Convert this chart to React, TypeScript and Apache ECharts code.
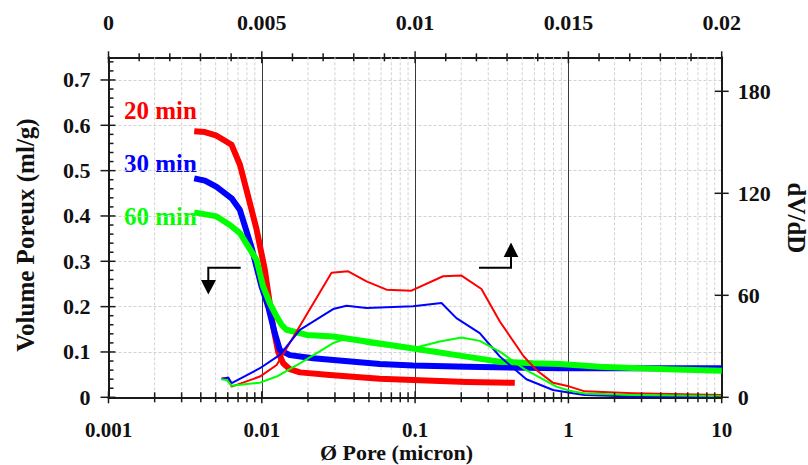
import React, { useEffect, useRef } from 'react';
import * as echarts from 'echarts';

const FONT = '"Liberation Serif", "Times New Roman", serif';
const RED = '#ff0000';
const BLUE = '#0000ff';
const GREEN = '#00ff00';
const AXIS = '#1a1a1a';

// Axis tick labels
const X_TICK_LABELS = ['0.001', '0.01', '0.1', '1', '10'];
const TOP_TICK_LABELS = ['0', '0.005', '0.01', '0.015', '0.02'];

// Tick / grid positions
const LOG_DECADES = [0.001, 0.01, 0.1, 1];
const LOG_MAJOR = [0.001, 0.01, 0.1, 1, 10];
const LOG_MINOR_MULTS = [2, 3, 4, 5, 6, 7, 8, 9];
const TOP_MAJOR = [0, 0.005, 0.01, 0.015, 0.02];
const TOP_MINOR_STEP = 0.001;
const LEFT_MAJOR = [0, 0.1, 0.2, 0.3, 0.4, 0.5, 0.6, 0.7];
const LEFT_MINOR_STEP = 0.02;
const RIGHT_MAJOR = [0, 60, 120, 180];

// Cumulative pore volume (ml/g), left axis
const RED_VOL_X = [0.003624, 0.004256, 0.005073, 0.006354, 0.0072, 0.00815, 0.00925, 0.01047, 0.01186, 0.01279, 0.01379, 0.01525, 0.01772, 0.0278, 0.0589, 0.097, 0.2163, 0.447];
const RED_VOL_Y = [0.587, 0.585, 0.577, 0.557, 0.513, 0.443, 0.37, 0.281, 0.156, 0.1, 0.075, 0.062, 0.055, 0.049, 0.041, 0.038, 0.034, 0.032];

const BLUE_VOL_X = [0.003624, 0.004256, 0.005073, 0.006354, 0.0072, 0.00858, 0.00997, 0.011, 0.01217, 0.01312, 0.01525, 0.02163, 0.0589, 0.097, 0.2163, 0.877, 10];
const BLUE_VOL_Y = [0.483, 0.478, 0.464, 0.439, 0.413, 0.33, 0.244, 0.2, 0.141, 0.104, 0.093, 0.086, 0.0735, 0.07, 0.0676, 0.064, 0.064];

const GREEN_VOL_X = [0.003624, 0.005073, 0.00619, 0.0072, 0.00925, 0.01021, 0.01129, 0.0125, 0.01346, 0.01451, 0.0196, 0.0292, 0.0482, 0.0795, 0.131, 0.2163, 0.357, 0.588, 0.877, 1.6, 4.35, 10];
const GREEN_VOL_Y = [0.408, 0.399, 0.38, 0.362, 0.303, 0.244, 0.207, 0.178, 0.16, 0.149, 0.1375, 0.134, 0.123, 0.112, 0.101, 0.0897, 0.0786, 0.075, 0.0735, 0.0675, 0.0618, 0.0587];

// dV/dD, right axis
const RED_DV_X = [0.00547, 0.00604, 0.00636, 0.00972, 0.0125, 0.0285, 0.0366, 0.0482, 0.0651, 0.0947, 0.1522, 0.2007, 0.271, 0.357, 0.512, 0.618, 0.794, 1.02, 1.277, 2.64, 10];
const RED_DV_Y = [11.2, 11.4, 6.3, 12.2, 19, 73.2, 74.1, 68.2, 63.3, 62.7, 71.2, 71.6, 63.7, 44.6, 24, 16.1, 8.5, 6.3, 3.5, 2.4, 1.4];

const BLUE_DV_X = [0.00547, 0.00604, 0.00636, 0.00972, 0.01312, 0.01772, 0.0292, 0.0357, 0.0482, 0.097, 0.1487, 0.186, 0.264, 0.357, 0.532, 0.794, 1.02, 1.277, 2.64, 10];
const BLUE_DV_Y = [10.6, 11.6, 8.3, 17.1, 25, 39.7, 51.9, 53.9, 52.5, 53.5, 55.5, 46.6, 37.8, 24, 10.6, 4.3, 2.7, 1.4, 0.4, 0.3];

const GREEN_DV_X = [0.00547, 0.0059, 0.00636, 0.00972, 0.0125, 0.01772, 0.0292, 0.0366, 0.0482, 0.0651, 0.097, 0.145, 0.2007, 0.264, 0.357, 0.52, 0.835, 1.02, 1.277, 2.64, 10];
const GREEN_DV_Y = [10.6, 10.2, 6.8, 8.6, 12.2, 20, 31.9, 34.8, 31.4, 29.9, 28.9, 32.8, 35.2, 33.2, 26.9, 16.4, 6.3, 3.9, 2.2, 1.4, 0.8];

const SERIES_LABELS = ['20 min', '30 min', '60 min'];

const zip = (xs: number[], ys: number[]) => xs.map((x, i) => [x, ys[i]]);

const Y_MAX = 0.75;
const X_MIN = 0.001;
const X_MAX = 10;

function buildOption() {
  const logMinor: number[][] = [];
  LOG_DECADES.forEach((d) => LOG_MINOR_MULTS.forEach((m) => logMinor.push([+(d * m).toPrecision(3), 0, 0])));
  const logTicks = [...LOG_MAJOR.map((v) => [v, 0, 1]), ...logMinor];

  const topTicks: number[][] = [];
  for (let i = 0; i <= 20; i++) {
    const v = +(i * TOP_MINOR_STEP).toFixed(4);
    topTicks.push([v, Y_MAX, TOP_MAJOR.some((m) => Math.abs(m - v) < 1e-9) ? 1 : 0]);
  }
  const leftTicks: number[][] = [];
  for (let i = 0; i <= 37; i++) {
    const v = +(i * LEFT_MINOR_STEP).toFixed(3);
    leftTicks.push([X_MIN, v, LEFT_MAJOR.some((m) => Math.abs(m - v) < 1e-9) ? 1 : 0]);
  }
  const rightTicks = RIGHT_MAJOR.map((v) => [X_MAX, v, 1]);

  const tickStyle = { stroke: AXIS, lineWidth: 1.5 };

  const line = (name: string, xs: number[], ys: number[], color: string, width: number, yAxisIndex: number, z: number) => ({
    name,
    type: 'line',
    xAxisIndex: 0,
    yAxisIndex,
    data: zip(xs, ys),
    symbol: 'none',
    showSymbol: false,
    silent: true,
    z,
    lineStyle: { color, width, join: 'round' },
    itemStyle: { color },
  });

  const labelStyle = { fontFamily: FONT, fontWeight: 'bold', fontSize: 22, color: '#111' };

  return {
    animation: false,
    backgroundColor: '#ffffff',
    grid: { left: 108.5, right: 86.3, top: 57.3, bottom: 67.7, containLabel: false },
    xAxis: [
      {
        type: 'log',
        logBase: 10,
        min: X_MIN,
        max: X_MAX,
        position: 'bottom',
        axisLine: { show: true, onZero: false, lineStyle: { color: AXIS, width: 2 } },
        axisTick: { show: false },
        axisLabel: {
          ...labelStyle,
          fontSize: 21,
          margin: 22,
          formatter: (v: number) => X_TICK_LABELS[Math.round(Math.log10(v)) + 3] ?? '',
        },
        splitLine: { show: true, lineStyle: { color: '#3a3a3a', width: 1 } },
        minorSplitLine: { show: false },
      },
      {
        type: 'value',
        min: 0,
        max: 0.02,
        interval: 0.005,
        position: 'top',
        axisLine: { show: true, onZero: false, lineStyle: { color: AXIS, width: 2 } },
        axisTick: { show: false },
        axisLabel: {
          ...labelStyle,
          margin: 24,
          formatter: (v: number) => TOP_TICK_LABELS[Math.round(v / 0.005)] ?? '',
        },
        splitLine: { show: false },
      },
    ],
    yAxis: [
      {
        type: 'value',
        min: 0,
        max: Y_MAX,
        interval: 0.1,
        position: 'left',
        axisLine: { show: true, onZero: false, lineStyle: { color: AXIS, width: 2 } },
        axisTick: { show: false },
        axisLabel: { ...labelStyle, margin: 18, showMaxLabel: false },
        splitLine: { show: true, lineStyle: { color: '#d2d2d2', width: 1, type: [3, 2] } },
      },
      {
        type: 'value',
        min: 0,
        max: 200,
        interval: 60,
        position: 'right',
        axisLine: { show: true, onZero: false, lineStyle: { color: AXIS, width: 2 } },
        axisTick: { show: false },
        axisLabel: { ...labelStyle, margin: 16, showMaxLabel: false },
        splitLine: { show: false },
      },
    ],
    series: [
      {
        type: 'custom',
        name: 'minorGrid',
        xAxisIndex: 0,
        yAxisIndex: 0,
        silent: true,
        clip: false,
        z: 1,
        encode: { x: 0, y: 1 },
        data: logMinor,
        renderItem: (_p: any, api: any) => {
          const x = api.value(0);
          const b = api.coord([x, 0]);
          const t = api.coord([x, Y_MAX]);
          return {
            type: 'line',
            shape: { x1: b[0], y1: t[1], x2: b[0], y2: b[1] },
            style: { stroke: '#d2d2d2', lineWidth: 1, lineDash: [3, 2] },
          };
        },
      },
      {
        type: 'custom',
        name: 'bottomTicks',
        xAxisIndex: 0,
        yAxisIndex: 0,
        silent: true,
        clip: false,
        z: 10,
        encode: { x: 0, y: 1 },
        data: logTicks,
        renderItem: (_p: any, api: any) => {
          const b = api.coord([api.value(0), 0]);
          const L = api.value(2) ? 6 : 5;
          return { type: 'line', shape: { x1: b[0], y1: b[1] - L, x2: b[0], y2: b[1] + L }, style: tickStyle };
        },
      },
      {
        type: 'custom',
        name: 'topTicks',
        xAxisIndex: 1,
        yAxisIndex: 0,
        silent: true,
        clip: false,
        z: 10,
        encode: { x: 0, y: 1 },
        data: topTicks,
        renderItem: (_p: any, api: any) => {
          const t = api.coord([api.value(0), Y_MAX]);
          const L = api.value(2) ? 6 : 4;
          return { type: 'line', shape: { x1: t[0], y1: t[1] - L, x2: t[0], y2: t[1] + L }, style: tickStyle };
        },
      },
      {
        type: 'custom',
        name: 'leftTicks',
        xAxisIndex: 0,
        yAxisIndex: 0,
        silent: true,
        clip: false,
        z: 10,
        encode: { x: 0, y: 1 },
        data: leftTicks,
        renderItem: (_p: any, api: any) => {
          const p = api.coord([X_MIN, api.value(1)]);
          const major = api.value(2);
          return {
            type: 'line',
            shape: { x1: major ? p[0] - 8 : p[0], y1: p[1], x2: p[0] + (major ? 7 : 5), y2: p[1] },
            style: tickStyle,
          };
        },
      },
      {
        type: 'custom',
        name: 'rightTicks',
        xAxisIndex: 0,
        yAxisIndex: 1,
        silent: true,
        clip: false,
        z: 10,
        encode: { x: 0, y: 1 },
        data: rightTicks,
        renderItem: (_p: any, api: any) => {
          const p = api.coord([X_MAX, api.value(1)]);
          return { type: 'line', shape: { x1: p[0] - 7, y1: p[1], x2: p[0] + 7, y2: p[1] }, style: tickStyle };
        },
      },
      line('20 min V', RED_VOL_X, RED_VOL_Y, RED, 6, 0, 3),
      line('30 min V', BLUE_VOL_X, BLUE_VOL_Y, BLUE, 6, 0, 3),
      line('60 min V', GREEN_VOL_X, GREEN_VOL_Y, GREEN, 6, 0, 3),
      line('20 min dV/dD', RED_DV_X, RED_DV_Y, RED, 2, 1, 4),
      line('30 min dV/dD', BLUE_DV_X, BLUE_DV_Y, BLUE, 2, 1, 4),
      line('60 min dV/dD', GREEN_DV_X, GREEN_DV_Y, GREEN, 2, 1, 4),
    ],
    graphic: [
      {
        type: 'text',
        x: 25,
        y: 235,
        rotation: Math.PI / 2,
        style: { text: 'Volume Poreux (ml/g)', fontFamily: FONT, fontWeight: 'bold', fontSize: 25, lineHeight: 20, fill: '#111', align: 'center', verticalAlign: 'middle' },
      },
      {
        type: 'text',
        x: 796,
        y: 218,
        rotation: -Math.PI / 2,
        style: { text: 'dV/dD', fontFamily: FONT, fontWeight: 'bold', fontSize: 25, lineHeight: 18, fill: '#111', align: 'center', verticalAlign: 'middle' },
      },
      {
        type: 'text',
        x: 396.5,
        y: 452.5,
        style: { text: 'Ø Pore (micron)', fontFamily: FONT, fontWeight: 'bold', fontSize: 22, fill: '#111', align: 'center', verticalAlign: 'middle' },
      },
      {
        type: 'text',
        x: 124,
        y: 110,
        style: { text: SERIES_LABELS[0], fontFamily: FONT, fontWeight: 'bold', fontSize: 25, fill: RED, align: 'left', verticalAlign: 'middle' },
      },
      {
        type: 'text',
        x: 124,
        y: 163,
        style: { text: SERIES_LABELS[1], fontFamily: FONT, fontWeight: 'bold', fontSize: 25, fill: BLUE, align: 'left', verticalAlign: 'middle' },
      },
      {
        type: 'text',
        x: 124,
        y: 216,
        style: { text: SERIES_LABELS[2], fontFamily: FONT, fontWeight: 'bold', fontSize: 25, fill: GREEN, align: 'left', verticalAlign: 'middle' },
      },
      {
        type: 'polyline',
        shape: { points: [[240.7, 267.7], [208.3, 267.7], [208.3, 281]] },
        style: { stroke: '#000', lineWidth: 2, fill: null },
        z: 20,
      },
      {
        type: 'polygon',
        shape: { points: [[201, 280], [216, 280], [208.3, 294.5]] },
        style: { fill: '#000' },
        z: 20,
      },
      {
        type: 'polyline',
        shape: { points: [[479, 267.7], [511, 267.7], [511, 256]] },
        style: { stroke: '#000', lineWidth: 2, fill: null },
        z: 20,
      },
      {
        type: 'polygon',
        shape: { points: [[503.7, 257], [518.3, 257], [511, 242.5]] },
        style: { fill: '#000' },
        z: 20,
      },
    ],
  };
}

export default function App() {
  const ref = useRef<HTMLDivElement>(null);
  useEffect(() => {
    if (!ref.current) return;
    const chart = echarts.init(ref.current, undefined, { renderer: 'svg' });
    chart.setOption(buildOption() as any);
    return () => chart.dispose();
  }, []);
  return (
    <div
      ref={ref}
      style={{ position: 'absolute', left: 0, top: 0, width: 808, height: 465, background: '#fff' }}
    />
  );
}
